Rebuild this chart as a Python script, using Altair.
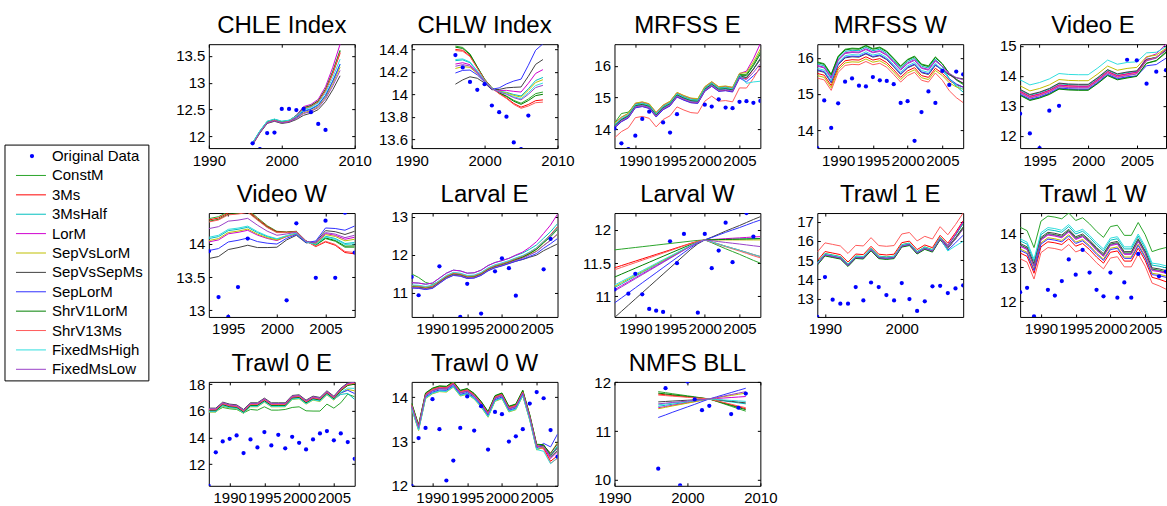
import altair as alt
import pandas as pd

FONT = "Liberation Sans"
MODELS = ["ConstM", "3Ms", "3MsHalf", "LorM", "SepVsLorM", "SepVsSepMs",
          "SepLorM", "ShrV1LorM", "ShrV13Ms", "FixedMsHigh", "FixedMsLow"]
MODEL_COLORS = ["#2aa52a", "#ff0000", "#00bfbf", "#d000d0", "#bfbf00", "#404040",
                "#3030ff", "#007f00", "#ff5a5a", "#30dede", "#9a40c8"]
SERIES = ["Original Data"] + MODELS
SERIES_COLORS = ["#0000ff"] + MODEL_COLORS

# ---------------- data ----------------
# model line = BASE + C[model] + A[model]*U + B[model]*V  (U/V: where the spread applies)
Y96 = list(range(1996, 2009))
Y87 = list(range(1987, 2009))
Y93 = list(range(1993, 2009))
Y89 = list(range(1989, 2009))

CHLE_OBS = [11.87, 11.76, 12.06, 12.07, 12.51, 12.51, 12.49, 12.51, 12.45, 12.23, 12.12, None, None]
CHLE_BASE = [11.86, 12.08, 12.26, 12.30, 12.26, 12.28, 12.38, 12.53, 12.57, 12.66, 12.88, 13.22, 13.62]
CHLE_C = [0.01, 0.0, 0.02, 0.0, -0.01, -0.02, 0.0, 0.01, 0.0, 0.02, -0.01]
CHLE_V = [0, 0, 0, 0, 0, 0, 0.1, 0.25, 0.25, 0.3, 0.45, 0.7, 1.0]
CHLE_B = [-0.02, -0.07, -0.30, 0.10, -0.32, -0.47, -0.27, -0.04, -0.05, -0.2, -0.38]

CHLW_OBS = [14.35, 14.24, 14.11, 14.04, 14.09, 13.90, 13.84, 13.80, 13.57, 13.51, 13.81, None, None]
CHLW_BASE = [14.28, 14.29, 14.27, 14.2, 14.12, 14.05, 14.02, 14.0, 13.97, 13.95, 14.0, 14.06, 14.08]
CHLW_U = [1, 0.85, 0.6, 0.3, 0.1, 0.05, 0, 0, 0, 0, 0, 0, 0]
CHLW_A = [0.15, 0.12, 0.02, -0.01, -0.05, -0.19, -0.09, 0.14, 0.11, 0.03, -0.03]
CHLW_V = [0, 0, 0, 0, 0, 0, 0.1, 0.25, 0.4, 0.5, 0.7, 0.9, 1.0]
CHLW_B = [-0.06, -0.13, 0.07, 0.14, 0.05, 0.23, 0.37, -0.08, -0.15, 0.02, 0.0]

MRFE_OBS = [14.02, 13.55, 13.37, 13.79, 14.32, 14.55, None, 14.21, 13.89, 14.47, None, None, None,
            14.77, 14.71, 14.94, 14.68, 14.66, 14.86, 14.88, 14.83, 14.89]
MRFE_BASE = [14.1, 14.3, 14.42, 14.74, 14.78, 14.72, 14.45, 14.68, 14.8, 15.08, 14.98, 14.9, 14.88,
             15.26, 15.42, 15.26, 15.28, 15.24, 15.68, 15.66, 15.95, 16.3]
MRFE_C = [0.04, -0.06, -0.02, 0.07, 0.08, 0.0, -0.07, 0.02, -0.38, 0.03, -0.04]
MRFE_U = [0.3, 1, 0.5, 0.1] + [0] * 18
MRFE_A = [0.15, 0, 0, 0, 0, 0, 0, 0, 0, 0, 0]
MRFE_V = [0] * 19 + [0.3, 0.6, 1.0]
MRFE_B = [0.1, 0.0, -0.05, 0.33, 0.15, -0.1, -0.33, 0.05, 0.05, -0.82, -0.2]

MRFW_OBS = [13.5, 14.82, 14.06, 14.74, 15.34, 15.43, 15.23, 15.21, 15.47, 15.38, 15.36, 15.27,
            14.75, 14.80, 13.70, 14.50, 15.07, 14.75, 15.64, 15.25, 15.62, 15.54]
MRFW_BASE = [15.69, 15.64, 15.35, 15.85, 16.04, 16.07, 16.06, 16.15, 16.06, 16.1, 15.99, 15.79,
             15.58, 15.76, 15.85, 15.63, 15.58, 15.83, 15.67, 15.44, 15.3, 15.21]
MRFW_C = [0.2, -0.12, 0.14, 0.1, -0.18, -0.04, -0.02, 0.18, -0.25, 0.02, 0.08]
MRFW_V = [0] * 18 + [0.2, 0.5, 0.75, 1.0]
MRFW_B = [-0.15, 0.1, -0.3, 0.0, 0.1, 0.25, 0.0, -0.1, -0.2, -0.1, 0.1]

VIDE_OBS = [12.74, 12.08, 11.59, 12.84, 13.0, None, None, None, None, None, None,
            14.54, 14.52, 13.74, 14.14, 14.19]
VIDE_BASE = [13.45, 13.28, 13.36, 13.48, 13.66, 13.63, 13.62, 13.62, 13.85, 14.11, 13.97, 14.03,
             14.08, 14.5, 14.58, 14.85]
VIDE_C = [-0.08, 0.04, 0.08, 0.03, 0.22, 0.1, -0.06, -0.1, 0.0, 0.42, -0.02]
VIDE_V = [0] * 12 + [0.1, 0.5, 0.7, 1.0]
VIDE_B = [0.0, 0.0, -0.05, 0.18, -0.15, -0.1, -0.2, 0.05, 0.05, -0.3, 0.05]

VIDW_OBS = [13.89, 13.2, 12.9, 13.35, 14.08, None, None, None, 13.15, 14.31, None, 13.49, 14.35,
            13.49, 14.47, 13.87]
VIDW_BASE = [14.08, 14.11, 14.2, 14.22, 14.25, 14.17, 14.11, 14.07, 14.12, 14.16, 14.03, 14.0,
             14.13, 14.1, 14.03, 14.05]
VIDW_U = [1, 1, 0.95, 0.92, 0.9, 0.75, 0.55, 0.4, 0.2, 0.1, 0.05, 0, 0, 0, 0, 0]
VIDW_A = [0.3, 0.28, 0.0, -0.05, -0.03, -0.3, -0.18, 0.26, 0.25, 0.02, 0.15]
VIDW_V = [0] * 11 + [0.2, 0.5, 0.6, 0.8, 1.0]
VIDW_B = [-0.1, -0.2, -0.03, 0.05, 0.02, 0.14, 0.22, -0.08, -0.18, -0.05, 0.08]

LARE_OBS = [11.42, 10.94, None, None, 11.70, None, None, 10.37, 11.24, None, 10.46, None, 11.57,
            11.91, 11.65, 10.93, None, None, None, 11.62, 12.42, None]
LARE_BASE = [11.17, 11.16, 11.13, 11.16, 11.29, 11.42, 11.5, 11.48, 11.42, 11.43, 11.5, 11.62,
             11.7, 11.75, 11.81, 11.88, 11.94, 12.03, 12.13, 12.29, 12.44, 12.62]
LARE_C = [0.0, 0.02, 0.1, 0.1, 0.0, -0.03, -0.04, -0.01, 0.03, 0.04, -0.02]
LARE_U = [1, 0.75, 0.45, 0.2, 0.05] + [0] * 17
LARE_A = [0.33, 0, 0, 0, 0, 0, 0, 0, 0, 0, 0]
LARE_V = [0] * 15 + [0.05, 0.1, 0.2, 0.35, 0.5, 0.7, 1.0]
LARE_B = [0.05, 0.1, 0.1, 0.35, -0.08, -0.3, -0.15, 0.1, 0.05, 0.05, -0.05]

LARW_OBS = [11.105, None, 11.04, 11.34, 11.03, 10.81, 10.785, 10.765, 11.83, 11.5, 11.94, None,
            10.755, 11.94, 11.425, 11.69, 12.11, 11.515, None, 12.255, 11.9, None]
LARW_BASE = [11.85] * 22
LARW_U = [1, 0.92, 0.84, 0.76, 0.68, 0.6, 0.52, 0.44, 0.36, 0.28, 0.2, 0.12, 0.05, 0] + [0] * 8
LARW_A = [-0.15, -0.42, -0.72, -0.75, -0.7, -1.17, -0.95, -0.56, -0.45, -0.68, -0.77]
LARW_V = [0] * 14 + [0.12, 0.25, 0.38, 0.5, 0.62, 0.75, 0.88, 1.0]
LARW_B = [-0.35, -0.25, 0.02, 0.05, 0.0, 0.35, 0.3, 0.02, -0.27, -0.25, -0.1]

T1E_OBS = [12.05, 14.12, 12.95, 12.74, 12.74, 13.6, 12.91, 13.84, 13.6, 13.19, 12.91, 13.81,
           12.98, 12.36, 12.86, 13.64, 13.67, 13.29, 13.53, 13.69]
T1E_BASE = [14.82, 15.3, 15.22, 15.14, 14.75, 15.17, 15.14, 15.57, 15.16, 15.12, 15.16, 15.76,
            15.84, 15.4, 15.64, 15.5, 16.14, 15.72, 16.25, 16.85]
T1E_C = [0.05, 0.15, 0.02, 0.0, -0.05, -0.02, -0.05, -0.08, 0.6, 0.03, -0.03]
T1E_V = [0] * 17 + [0.3, 0.6, 1.0]
T1E_B = [0.0, 0.05, 0.05, 0.15, -0.15, -0.1, -0.5, -0.1, 0.0, -0.9, -0.2]

T1W_OBS = [12.26, 12.39, 11.55, None, 12.33, 12.16, 12.59, 13.23, 12.78, 13.51, 12.84, 12.33,
           12.14, 12.84, 12.10, 12.55, 12.10, 13.39, None, None, 12.73, 12.87]
T1W_BASE = [13.6, 13.5, 13.0, 13.78, 13.93, 13.9, 13.85, 14.02, 13.8, 13.88, 13.7, 13.48, 13.3,
            13.62, 13.66, 13.36, 13.36, 13.74, 13.38, 12.88, 12.85, 12.8]
T1W_C = [0.58, -0.18, 0.18, 0.02, -0.06, 0.1, -0.1, 0.06, -0.35, 0.24, 0.04]
T1W_V = [0] * 20 + [0.5, 1.0]
T1W_B = [0.2, -0.05, 0, 0, 0, 0, 0, 0, -0.1, 0, 0]

T0E_OBS = [10.37, 12.88, 13.7, 13.9, 14.15, 12.83, 13.85, 13.25, 14.4, 13.4, 14.2, 13.18, 14.05,
           13.6, 13.1, 13.85, 14.3, 14.48, 13.78, 14.3, 13.65, 12.4]
T0E_BASE = [16.05, 16.05, 16.5, 16.35, 16.3, 15.95, 16.45, 16.45, 16.8, 16.45, 16.45, 16.45, 17.0,
            17.05, 16.65, 16.95, 16.85, 17.35, 16.95, 17.55, 17.95, 18.05]
T0E_CONSTM = [15.98, 15.98, 16.25, 16.15, 16.1, 15.85, 16.1, 16.05, 16.3, 16.05, 16.05, 16.1,
              16.25, 16.3, 16.0, 15.98, 15.98, 16.5, 16.2, 16.6, 17.25, 17.05]
T0E_C = [0.0, 0.0, -0.1, 0.05, -0.15, 0.15, -0.06, -0.05, 0.03, -0.12, 0.1]
T0E_V = [0] * 19 + [0.2, 0.5, 1.0]
T0E_B = [0, 0, -1.1, 0.1, -0.4, 0, -0.7, 0, 0, -0.25, 0]

T0W_OBS = [12.0, 13.08, 13.31, 13.96, 13.28, 12.12, 12.57, 13.31, 14.02, 13.25, 13.8, 12.82,
           13.67, 13.62, 13.0, 13.12, 13.28, 13.86, 14.12, 13.98, 13.26, 12.66]
T0W_BASE = [13.81, 13.32, 14.04, 14.15, 14.2, 14.19, 14.3, 14.1, 14.14, 14.03, 13.85, 13.62,
            13.98, 14.04, 13.74, 13.79, 14.1, 13.55, 12.88, 12.9, 12.7, 12.9]
T0W_C = [0.05, 0.03, -0.05, 0.02, -0.07, 0.0, -0.03, 0.06, 0.02, -0.06, 0.0]
T0W_V = [0] * 19 + [0.3, 0.7, 1.0]
T0W_B = [-0.15, -0.25, 0.05, -0.15, 0.15, 0.05, 0.3, -0.1, -0.3, -0.2, -0.05]

NMFS_OBS = [10.23, 11.88, None, 9.89, 12.02, 11.65, 11.43, 11.52, None, None, 11.35, 11.48, 11.77]
NMFS_BASE = [11.66] * 13
NMFS_U = [1, 0.86, 0.71, 0.57, 0.43, 0.29, 0.14, 0, 0, 0, 0, 0, 0]
NMFS_A = [0.15, 0.1, -0.15, -0.18, -0.2, -0.06, -0.38, 0.12, 0.08, -0.12, -0.1]
NMFS_V = [0, 0, 0, 0, 0, 0, 0, 0, 0.2, 0.4, 0.6, 0.8, 1.0]
NMFS_B = [-0.25, -0.2, -0.1, 0.05, 0.12, -0.08, 0.22, -0.22, -0.18, -0.05, 0.15]

# ---------------- layout ----------------
PW, PH = 146, 104
TICK_FS = 15
COLOR = alt.Color("series:N", scale=alt.Scale(domain=SERIES, range=SERIES_COLORS), legend=None)


def pick(arr, i, default=0.0):
    if arr is None or i >= len(arr):
        return default
    return arr[i]


def legend_layers():
    ysc = alt.Scale(type="point", domain=SERIES, range=[-57, 156.4], padding=0)
    yenc = alt.Y("series:N", scale=ysc, axis=None)
    box = alt.Chart(pd.DataFrame({"k": [0]})).mark_rect(
        fill="white", stroke="black", strokeWidth=1).encode(
        x=alt.value(-204), x2=alt.value(-60), y=alt.value(-68), y2=alt.value(168))
    samples = alt.Chart(pd.DataFrame({"series": MODELS})).mark_rule(strokeWidth=1).encode(
        x=alt.value(-193), x2=alt.value(-163), y=yenc, color=COLOR)
    dot = alt.Chart(pd.DataFrame({"series": ["Original Data"]})).mark_circle(
        size=18, opacity=1).encode(x=alt.value(-177), y=yenc, color=COLOR)
    labels = alt.Chart(pd.DataFrame({"series": SERIES})).mark_text(
        align="left", baseline="middle", font=FONT, fontSize=15, color="black").encode(
        x=alt.value(-157), y=yenc, text="series:N")
    return [box, samples, dot, labels]


def panel(title, years, obs, base, xdom, xticks, ydom, yticks,
          C=None, U=None, A=None, V=None, B=None, override=None, legend=False):
    rows = []
    for mi, m in enumerate(MODELS):
        for i, yr in enumerate(years):
            if override and m in override:
                val = override[m][i]
            else:
                val = (base[i] + pick(C, mi) + pick(A, mi) * pick(U, i)
                       + pick(B, mi) * pick(V, i))
            rows.append({"year": yr, "value": round(val, 4), "series": m})
    lines_df = pd.DataFrame(rows)
    obs_df = pd.DataFrame([{"year": yr, "value": o, "series": "Original Data"}
                           for yr, o in zip(years, obs) if o is not None])
    xs = alt.Scale(domain=xdom, nice=False, zero=False)
    ys = alt.Scale(domain=ydom, nice=False, zero=False)
    common = dict(title=None, ticks=False, domain=False, labelFont=FONT, labelFontSize=TICK_FS,
                  labelColor="black", labelOverlap=False, labelFlush=False, grid=True,
                  gridColor="black", gridOpacity=1, gridWidth=1)
    xaxis = alt.Axis(values=xticks, format="d", labelPadding=5,
                     gridDash=[3, PH - 6, 3, 400], **common)
    yaxis = alt.Axis(values=yticks, format="~g", labelPadding=4,
                     gridDash=[3, PW - 6, 3, 400], **common)
    x = alt.X("year:Q", scale=xs, axis=xaxis)
    y = alt.Y("value:Q", scale=ys, axis=yaxis)
    lines = alt.Chart(lines_df).mark_line(strokeWidth=1, clip=True).encode(x=x, y=y, color=COLOR)
    pts = alt.Chart(obs_df).mark_circle(size=18, opacity=1, clip=True).encode(x=x, y=y, color=COLOR)
    ttl = alt.Chart(pd.DataFrame({"t": [title]})).mark_text(
        font=FONT, fontSize=24, color="black", align="center", baseline="alphabetic").encode(
        x=alt.value(PW / 2), y=alt.value(-11), text="t:N")
    ch = alt.layer(lines, pts)
    extra = [ttl] + (legend_layers() if legend else [])
    ch = alt.layer(ch, *extra).resolve_scale(y="independent")
    return ch.properties(width=PW, height=PH)


panels = [
    panel("CHLE Index", Y96, CHLE_OBS, CHLE_BASE, [1990, 2010], [1990, 2000, 2010],
          [11.78, 13.72], [12, 12.5, 13, 13.5], C=CHLE_C, V=CHLE_V, B=CHLE_B),
    panel("CHLW Index", Y96, CHLW_OBS, CHLW_BASE, [1990, 2010], [1990, 2000, 2010],
          [13.52, 14.447], [13.6, 13.8, 14, 14.2, 14.4], U=CHLW_U, A=CHLW_A, V=CHLW_V, B=CHLW_B),
    panel("MRFSS E", Y87, MRFE_OBS, MRFE_BASE, [1987, 2008], [1990, 1995, 2000, 2005],
          [13.4, 16.68], [14, 15, 16], C=MRFE_C, U=MRFE_U, A=MRFE_A, V=MRFE_V, B=MRFE_B),
    panel("MRFSS W", Y87, MRFW_OBS, MRFW_BASE, [1987, 2008], [1990, 1995, 2000, 2005],
          [13.5, 16.38], [14, 15, 16], C=MRFW_C, V=MRFW_V, B=MRFW_B),
    panel("Video E", Y93, VIDE_OBS, VIDE_BASE, [1993, 2008], [1995, 2000, 2005],
          [11.59, 15.06], [12, 13, 14, 15], C=VIDE_C, V=VIDE_V, B=VIDE_B),
    panel("Video W", Y93, VIDW_OBS, VIDW_BASE, [1993, 2008], [1995, 2000, 2005],
          [12.9, 14.465], [13, 13.5, 14], U=VIDW_U, A=VIDW_A, V=VIDW_V, B=VIDW_B, legend=True),
    panel("Larval E", Y87, LARE_OBS, LARE_BASE, [1987, 2008], [1990, 1995, 2000, 2005],
          [10.37, 13.1], [11, 12, 13], C=LARE_C, U=LARE_U, A=LARE_A, V=LARE_V, B=LARE_B),
    panel("Larval W", Y87, LARW_OBS, LARW_BASE, [1987, 2008], [1990, 1995, 2000, 2005],
          [10.69, 12.255], [11, 11.5, 12], U=LARW_U, A=LARW_A, V=LARW_V, B=LARW_B),
    panel("Trawl 1 E", Y89, T1E_OBS, T1E_BASE, [1989, 2008], [1990, 2000],
          [12.05, 17.45], [13, 14, 15, 16, 17], C=T1E_C, V=T1E_V, B=T1E_B),
    panel("Trawl 1 W", Y87, T1W_OBS, T1W_BASE, [1987, 2008], [1990, 1995, 2000, 2005],
          [11.53, 14.6], [12, 13, 14], C=T1W_C, V=T1W_V, B=T1W_B),
    panel("Trawl 0 E", Y87, T0E_OBS, T0E_BASE, [1987, 2008], [1990, 1995, 2000, 2005],
          [10.37, 18.17], [12, 14, 16, 18], C=T0E_C, V=T0E_V, B=T0E_B,
          override={"ConstM": T0E_CONSTM}),
    panel("Trawl 0 W", Y87, T0W_OBS, T0W_BASE, [1987, 2008], [1990, 1995, 2000, 2005],
          [12.0, 14.35], [12, 13, 14], C=T0W_C, V=T0W_V, B=T0W_B),
    panel("NMFS BLL", Y96, NMFS_OBS, NMFS_BASE, [1990, 2010], [1990, 2000, 2010],
          [9.88, 12.01], [10, 11, 12], U=NMFS_U, A=NMFS_A, V=NMFS_V, B=NMFS_B),
]

chart = alt.concat(*panels, columns=5, spacing={"row": 65, "column": 57}, bounds="flush").properties(
    padding={"left": 4, "top": 13, "right": 0, "bottom": 0},
    background="white",
).configure_view(stroke="black", strokeWidth=1)

chart.save("out.html", embed_options={"renderer": "svg", "actions": False})
